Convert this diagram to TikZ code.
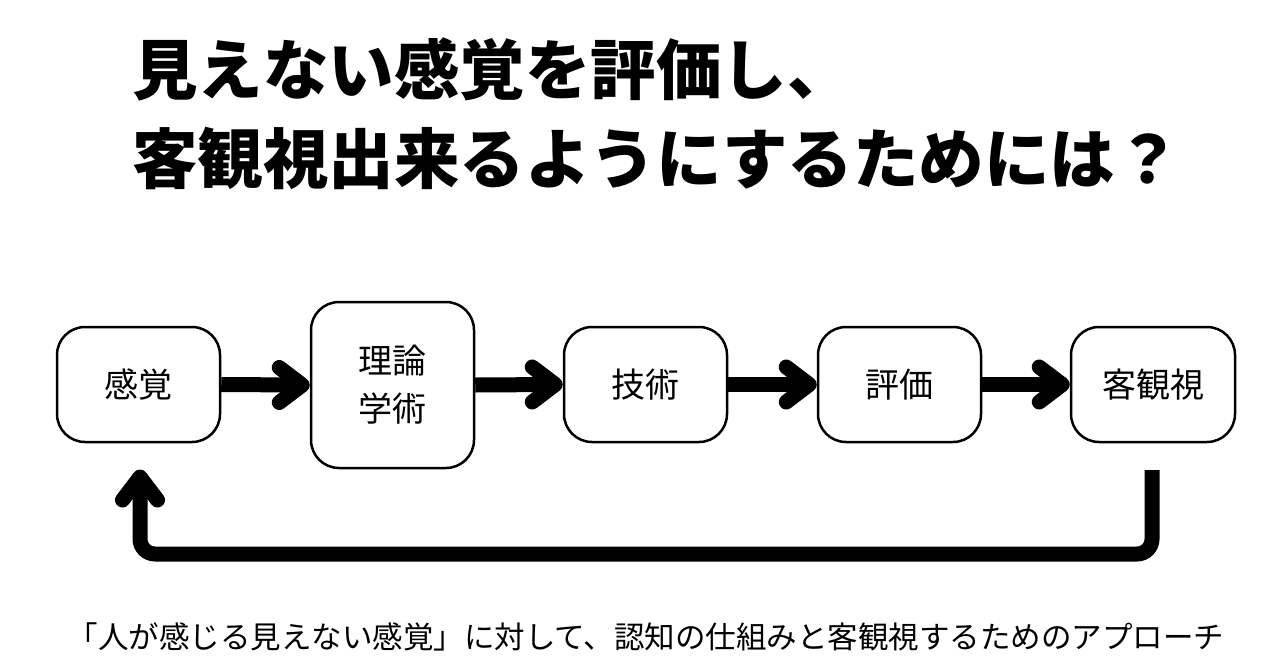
\documentclass[tikz,border=0pt]{standalone}
\usepackage{fontspec}
\setmainfont{Noto Sans CJK JP}
\usetikzlibrary{calc}
\begin{document}
\begin{tikzpicture}[x=1pt,y=-1pt,
  box/.style={draw, line width=2.5pt, rounded corners=28pt, minimum width=163pt, minimum height=115pt, align=center, font=\fontsize{34}{48}\selectfont, inner sep=0pt},
  shaft/.style={line width=15pt},
  chev/.style={line width=15pt, line cap=round, line join=round},
  titletext/.style={anchor=base west, inner sep=0pt, font=\fontsize{65.5}{65.5}\selectfont\bfseries},
  captext/.style={anchor=base, inner sep=0pt, font=\fontsize{30.5}{30.5}\selectfont}]
\useasboundingbox (0,0) rectangle (1280,670);
\fill[white] (0,0) rectangle (1280,670);

\node[titletext] (t1) at (132,94) {見えない感覚を評価し、};
\node[titletext] (t2) at (132,183) {客観視出来るようにするためには？};

\node[box] (kankaku) at (138.5,384.5) {感覚};
\node[box, minimum height=166pt] (riron) at (392.5,385) {理論\\学術};
\node[box] (gijutsu) at (645.5,384.5) {技術};
\node[box] (hyoka) at (899.5,384.5) {評価};
\node[box, minimum width=164pt] (kyakkan) at (1153,384.5) {客観視};

\foreach \a/\b in {kankaku/riron, riron/gijutsu, gijutsu/hyoka, hyoka/kyakkan}{
  \draw[shaft] (\a.east) -- ($(\b.west)+(-7.5,0)$);
  \draw[chev] ($(\b.west)+(-30.5,-17.5)$) -- ($(\b.west)+(-7.5,0)$) -- ($(\b.west)+(-30.5,17.5)$);
}

\coordinate (r1) at (1152,470);
\coordinate (r2) at (1152,554);
\coordinate (l2) at (140,554);
\coordinate (l1) at (140,477);
\draw[shaft, rounded corners=15pt] (r1) -- (r2) -- (l2) -- (l1);
\draw[chev] ($(l1)+(-17.5,23)$) -- (l1) -- ($(l1)+(17.5,23)$);

\node[captext] (cap) at (646,648) {「人が感じる見えない感覚」に対して、認知の仕組みと客観視するためのアプローチ};
\end{tikzpicture}
\end{document}
